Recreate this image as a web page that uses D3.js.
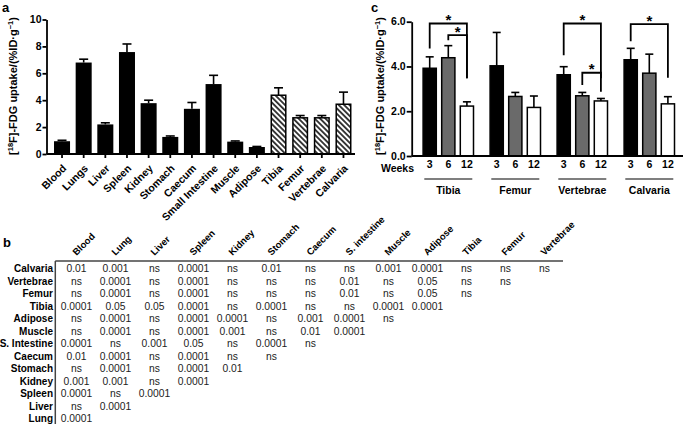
<!DOCTYPE html>
<html>
<head>
<meta charset="utf-8">
<script src="https://cdn.jsdelivr.net/npm/d3@7"></script>
<style>
body { margin: 0; background: #fff; }
svg { display: block; font-family: "Liberation Sans", Arial, sans-serif; }
</style>
</head>
<body>
<svg id="chart" width="685" height="427"></svg>
<script>
// panel a: uptake per organ
var organs = ['Blood', 'Lungs', 'Liver', 'Spleen', 'Kidney', 'Stomach', 'Caecum', 'Small Intestine',
  'Muscle', 'Adipose', 'Tibia', 'Femur', 'Vertebrae', 'Calvaria'];
var organMean = [0.95, 6.8, 2.2, 7.58, 3.78, 1.27, 3.36, 5.2, 0.92, 0.52, 4.37, 2.69, 2.69, 3.7];
var organErr = [0.07, 0.25, 0.12, 0.6, 0.22, 0.07, 0.47, 0.65, 0.05, 0.04, 0.55, 0.17, 0.17, 0.9];
var hatchedOrgans = ['Tibia', 'Femur', 'Vertebrae', 'Calvaria'];
var ticksA = [0, 2, 4, 6, 8, 10];

// panel c: uptake per bone and age
var bones = ['Tibia', 'Femur', 'Vertebrae', 'Calvaria'];
var weeks = ['3', '6', '12'];
var boneMean = [[3.92, 4.39, 2.23], [4.03, 2.66, 2.17], [3.63, 2.69, 2.46], [4.3, 3.7, 2.33]];
var boneErr = [[0.51, 0.54, 0.19], [1.49, 0.18, 0.51], [0.36, 0.15, 0.11], [0.51, 0.85, 0.32]];
var ticksC = [0, 2, 4, 6];
// bone, from week index, to week index, bracket level, left leg end, right leg end (data units)
var sigBrackets = [
  ['Tibia', 0, 2, 5.92, 4.8, 3.47],
  ['Tibia', 1, 2, 5.4, 5.17, 3.47],
  ['Vertebrae', 0, 2, 5.92, 4.5, 3.47],
  ['Vertebrae', 1, 2, 3.72, 3.17, 2.87],
  ['Calvaria', 0, 2, 5.89, 5.13, 3.5]
];

// panel b: p-values table
var tableCols = ['Blood', 'Lung', 'Liver', 'Spleen', 'Kidney', 'Stomach', 'Caecum', 'S. intestine',
  'Muscle', 'Adipose', 'Tibia', 'Femur', 'Vertebrae'];
var tableRows = ['Calvaria', 'Vertebrae', 'Femur', 'Tibia', 'Adipose', 'Muscle', 'S. Intestine',
  'Caecum', 'Stomach', 'Kidney', 'Spleen', 'Liver', 'Lung'];
var pValues = [
  ['0.01', '0.001', 'ns', '0.0001', 'ns', '0.01', 'ns', 'ns', '0.001', '0.0001', 'ns', 'ns', 'ns'],
  ['ns', '0.0001', 'ns', '0.0001', 'ns', 'ns', 'ns', '0.01', 'ns', '0.05', 'ns', 'ns'],
  ['ns', '0.0001', 'ns', '0.0001', 'ns', 'ns', 'ns', '0.01', 'ns', '0.05', 'ns'],
  ['0.0001', '0.05', '0.05', '0.0001', 'ns', '0.0001', 'ns', 'ns', '0.0001', '0.0001'],
  ['ns', '0.0001', 'ns', '0.0001', '0.0001', 'ns', '0.001', '0.0001', 'ns'],
  ['ns', '0.0001', 'ns', '0.0001', '0.001', 'ns', '0.01', '0.0001'],
  ['0.0001', 'ns', '0.001', '0.05', 'ns', '0.0001', 'ns'],
  ['0.01', '0.0001', 'ns', '0.0001', 'ns', 'ns'],
  ['ns', '0.0001', 'ns', '0.0001', '0.01'],
  ['0.001', '0.001', 'ns', '0.0001'],
  ['0.0001', 'ns', '0.0001'],
  ['ns', '0.0001'],
  ['0.0001']
];

var svg = d3.select('#chart');
svg.append('rect').attr('width', 685).attr('height', 427).attr('fill', '#fff');

var pat = svg.append('defs').append('pattern')
  .attr('id', 'hatch')
  .attr('patternUnits', 'userSpaceOnUse')
  .attr('width', 3.8).attr('height', 3.8)
  .attr('patternTransform', 'rotate(-45)');
pat.append('rect').attr('width', 3.8).attr('height', 3.8).attr('fill', '#fff');
pat.append('line').attr('x1', 1.9).attr('y1', 0).attr('x2', 1.9).attr('y2', 3.8)
  .attr('stroke', '#000').attr('stroke-width', 1.5);

function yLabel (x, y) {
  var t = svg.append('text')
    .attr('transform', 'translate(' + x + ',' + y + ') rotate(-90)')
    .attr('text-anchor', 'middle')
    .attr('font-size', 11)
    .attr('font-weight', 'bold');
  t.append('tspan').text('[');
  t.append('tspan').attr('baseline-shift', 'super').attr('font-size', 7.5).text('18');
  t.append('tspan').text('F]-FDG uptake/(%ID\u00b7g');
  t.append('tspan').attr('baseline-shift', 'super').attr('font-size', 7.5).text('\u22121');
  t.append('tspan').text(')');
}

function styleAxis (g) {
  g.selectAll('path, line').attr('stroke', '#000').attr('stroke-width', 1.8);
  g.selectAll('text').attr('font-size', 10.5).attr('font-weight', 'bold').attr('fill', '#000')
    .attr('font-family', '"Liberation Sans", Arial, sans-serif');
}

function panelLetter (s, x, y) {
  svg.append('text').attr('x', x).attr('y', y).attr('font-size', 13).attr('font-weight', 'bold').text(s);
}

//---------- panel a ----------
var axA = 46.5;
var ya = d3.scaleLinear().domain([0, 10]).range([154, 19.5]);
var xa = d3.scaleBand().domain(organs).range([51.2, 354.3]).paddingInner(0.26).paddingOuter(0.13);

panelLetter('a', 2, 12);
yLabel(17, 86);

var ga = svg.append('g');
ga.selectAll('rect.bar').data(organs).join('rect')
  .attr('class', 'bar')
  .attr('x', function (d) { return hatchedOrgans.indexOf(d) >= 0 ? xa(d) + 0.75 : xa(d); })
  .attr('width', function (d) { return hatchedOrgans.indexOf(d) >= 0 ? xa.bandwidth() - 1.5 : xa.bandwidth(); })
  .attr('y', function (d, i) { return ya(organMean[i]); })
  .attr('height', function (d, i) { return ya(0) - ya(organMean[i]); })
  .attr('fill', function (d) { return hatchedOrgans.indexOf(d) >= 0 ? 'url(#hatch)' : '#000'; })
  .attr('stroke', function (d) { return hatchedOrgans.indexOf(d) >= 0 ? '#000' : 'none'; })
  .attr('stroke-width', 1.5);

organs.forEach(function (d, i) {
  var cx = xa(d) + xa.bandwidth() / 2;
  var top = ya(organMean[i] + organErr[i]);
  ga.append('line').attr('x1', cx).attr('x2', cx).attr('y1', ya(organMean[i])).attr('y2', top)
    .attr('stroke', '#000').attr('stroke-width', 1.6);
  ga.append('line').attr('x1', cx - 4.5).attr('x2', cx + 4.5).attr('y1', top).attr('y2', top)
    .attr('stroke', '#000').attr('stroke-width', 1.6);
});

var gay = svg.append('g').attr('transform', 'translate(' + axA + ',0)')
  .call(d3.axisLeft(ya).tickValues(ticksA).tickFormat(d3.format('d')).tickSize(4).tickSizeOuter(0).tickPadding(1));
styleAxis(gay);

var gax = svg.append('g').attr('transform', 'translate(0,' + ya(0) + ')')
  .call(d3.axisBottom(xa).tickSize(4).tickSizeOuter(0));
gax.select('.domain').remove();
gax.append('line').attr('x1', axA).attr('x2', 355).attr('y1', 0).attr('y2', 0);
styleAxis(gax);
gax.selectAll('text')
  .attr('x', 0).attr('y', 0).attr('dy', null)
  .attr('text-anchor', 'end')
  .attr('font-size', 10.5)
  .attr('transform', 'translate(5,15) rotate(-45)');

//---------- panel c ----------
var axC = 411.7;
var yc = d3.scaleLinear().domain([0, 6]).range([156, 21.7]);
var xc = d3.scaleBand().domain(bones).range([414.8, 682.8]);
var xw = d3.scalePoint().domain(weeks).range([-18.6, 18.6]);
var weekFill = {'3': '#000', '6': '#6a6a6a', '12': '#fff'};
var barW = 13.2;

panelLetter('c', 371, 12);
yLabel(384, 86);

var gc = svg.append('g');
bones.forEach(function (b, bi) {
  weeks.forEach(function (w, wi) {
    var cx = xc(b) + xc.bandwidth() / 2 + xw(w);
    var v = boneMean[bi][wi];
    var top = yc(v + boneErr[bi][wi]);
    gc.append('line').attr('x1', cx).attr('x2', cx).attr('y1', yc(v)).attr('y2', top)
      .attr('stroke', '#000').attr('stroke-width', 1.6);
    gc.append('line').attr('x1', cx - 4).attr('x2', cx + 4).attr('y1', top).attr('y2', top)
      .attr('stroke', '#000').attr('stroke-width', 1.6);
    gc.append('rect')
      .attr('x', cx - barW / 2).attr('width', barW)
      .attr('y', yc(v)).attr('height', yc(0) - yc(v))
      .attr('fill', weekFill[w]).attr('stroke', '#000').attr('stroke-width', 1.5);
    gc.append('text').attr('x', cx).attr('y', 168).attr('text-anchor', 'middle')
      .attr('font-size', 10.5).attr('font-weight', 'bold').text(w);
  });
  var gx = xc(b) + xc.bandwidth() / 2;
  gc.append('line').attr('x1', gx - 24).attr('x2', gx + 24).attr('y1', 179).attr('y2', 179)
    .attr('stroke', '#000').attr('stroke-width', 1.2);
  gc.append('text').attr('x', gx).attr('y', 194).attr('text-anchor', 'middle')
    .attr('font-size', 10.5).attr('font-weight', 'bold').text(b);
});
gc.append('text').attr('x', 414).attr('y', 171.5).attr('text-anchor', 'end')
  .attr('font-size', 10.5).attr('font-weight', 'bold').text('Weeks');

sigBrackets.forEach(function (s) {
  var base = xc(s[0]) + xc.bandwidth() / 2;
  var x1 = base + xw(weeks[s[1]]);
  var x2 = base + xw(weeks[s[2]]);
  var y = yc(s[3]);
  gc.append('path')
    .attr('d', 'M' + x1 + ',' + yc(s[4]) + 'V' + y + 'H' + x2 + 'V' + yc(s[5]))
    .attr('fill', 'none').attr('stroke', '#000').attr('stroke-width', 1.8);
  gc.append('text').attr('x', (x1 + x2) / 2).attr('y', y + 1.5).attr('text-anchor', 'middle')
    .attr('font-size', 15).attr('font-weight', 'bold').text('*');
});

var gcy = svg.append('g').attr('transform', 'translate(' + axC + ',0)')
  .call(d3.axisLeft(yc).tickValues(ticksC).tickSize(5).tickSizeOuter(0).tickPadding(1));
styleAxis(gcy);
gcy.selectAll('text').attr('dy', '0.3em');
svg.append('line').attr('x1', axC).attr('x2', 683).attr('y1', yc(0)).attr('y2', yc(0))
  .attr('stroke', '#000').attr('stroke-width', 1.8);

//---------- panel b ----------
panelLetter('b', 3, 247);
var tx = d3.scaleBand().domain(tableCols).range([57, 564]);
var ty = d3.scaleBand().domain(tableRows).range([262.5, 425]);
var gb = svg.append('g').attr('font-size', 10.3).attr('fill', '#222');

gb.selectAll('text.col').data(tableCols).join('text')
  .attr('class', 'col')
  .attr('transform', function (d) { return 'translate(' + (tx(d) + tx.bandwidth() / 2) + ',256) rotate(-45)'; })
  .attr('font-size', 9.5)
  .attr('font-weight', 'bold')
  .attr('fill', '#000')
  .text(function (d) { return d; });

gb.selectAll('text.row').data(tableRows).join('text')
  .attr('class', 'row')
  .attr('x', 53)
  .attr('y', function (d) { return ty(d) + ty.bandwidth() / 2 + 3.5; })
  .attr('text-anchor', 'end')
  .attr('font-size', 10)
  .attr('font-weight', 'bold')
  .attr('fill', '#000')
  .text(function (d) { return d; });

pValues.forEach(function (row, ri) {
  row.forEach(function (v, ci) {
    gb.append('text')
      .attr('x', tx(tableCols[ci]) + tx.bandwidth() / 2)
      .attr('y', ty(tableRows[ri]) + ty.bandwidth() / 2 + 3.5)
      .attr('text-anchor', 'middle')
      .text(v);
  });
});

gb.append('line').attr('x1', 55.3).attr('x2', 563).attr('y1', 261).attr('y2', 261)
  .attr('stroke', '#444').attr('stroke-width', 1.5);
gb.append('line').attr('x1', 55.3).attr('x2', 55.3).attr('y1', 261).attr('y2', 424)
  .attr('stroke', '#444').attr('stroke-width', 1.5);
</script>
</body>
</html>
